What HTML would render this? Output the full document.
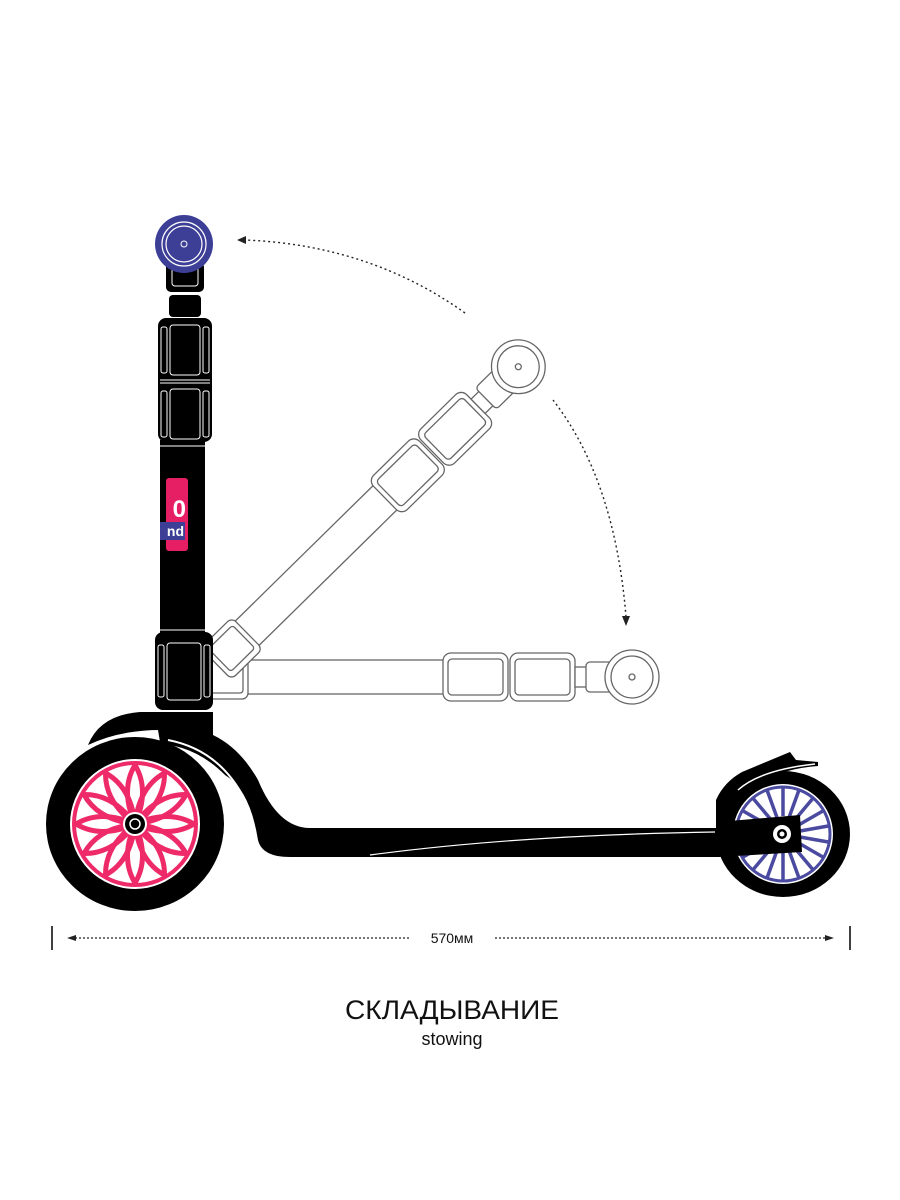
<!DOCTYPE html>
<html><head><meta charset="utf-8"><style>
html,body{margin:0;padding:0;background:#fff;width:900px;height:1200px;overflow:hidden}
svg{display:block}
</style></head><body>
<svg width="900" height="1200" viewBox="0 0 900 1200" xmlns="http://www.w3.org/2000/svg">
<defs>
<g id="gstem" fill="#fff" stroke="#666" stroke-width="1.3">
  <rect x="0" y="-17" width="230" height="34"/>
  <rect x="225" y="-24" width="65" height="48" rx="8"/>
  <rect x="230" y="-18" width="55" height="36" rx="4"/>
  <rect x="292" y="-24" width="65" height="48" rx="8"/>
  <rect x="297" y="-18" width="55" height="36" rx="4"/>
  <rect x="357" y="-10" width="15" height="20"/>
  <rect x="368" y="-15" width="28" height="30" rx="4"/>
  <circle cx="414" cy="0" r="27"/>
  <circle cx="414" cy="0" r="21"/>
  <circle cx="414" cy="0" r="3"/>
  <rect x="-14" y="-22" width="44" height="44" rx="6"/>
  <rect x="-9" y="-16" width="34" height="32" rx="3"/>
</g>
</defs>
<use href="#gstem" transform="translate(218,677)"/>
<use href="#gstem" transform="translate(226,654) rotate(-44.5) scale(0.99,1)"/>

<path d="M465 313 Q370 245 245 240" fill="none" stroke="#222" stroke-width="1.4" stroke-dasharray="2 3"/>
<polygon points="237,240 246,236 246,244" fill="#222"/>
<path d="M553 400 Q615 480 626 617" fill="none" stroke="#222" stroke-width="1.4" stroke-dasharray="2 3"/>
<polygon points="626,626 622,616 630,616" fill="#222"/>

<path d="M88 745 Q100 715 140 712 L160 712 L160 730 Q120 730 88 745Z" fill="#000"/>
<ellipse cx="135" cy="824" rx="89" ry="87" fill="#000"/>
<circle cx="135" cy="824" r="65" fill="#fff"/>
<circle cx="135" cy="824" r="61" fill="none" stroke="#ee2a68" stroke-width="4"/>
<g stroke="#ee2a68" stroke-width="5" fill="none" stroke-linecap="round">
<path d="M135 824 Q120 790 135 765 M135 824 Q150 790 135 765" transform="rotate(0 135 824)"/>
<path d="M135 824 Q120 790 135 765 M135 824 Q150 790 135 765" transform="rotate(30 135 824)"/>
<path d="M135 824 Q120 790 135 765 M135 824 Q150 790 135 765" transform="rotate(60 135 824)"/>
<path d="M135 824 Q120 790 135 765 M135 824 Q150 790 135 765" transform="rotate(90 135 824)"/>
<path d="M135 824 Q120 790 135 765 M135 824 Q150 790 135 765" transform="rotate(120 135 824)"/>
<path d="M135 824 Q120 790 135 765 M135 824 Q150 790 135 765" transform="rotate(150 135 824)"/>
<path d="M135 824 Q120 790 135 765 M135 824 Q150 790 135 765" transform="rotate(180 135 824)"/>
<path d="M135 824 Q120 790 135 765 M135 824 Q150 790 135 765" transform="rotate(210 135 824)"/>
<path d="M135 824 Q120 790 135 765 M135 824 Q150 790 135 765" transform="rotate(240 135 824)"/>
<path d="M135 824 Q120 790 135 765 M135 824 Q150 790 135 765" transform="rotate(270 135 824)"/>
<path d="M135 824 Q120 790 135 765 M135 824 Q150 790 135 765" transform="rotate(300 135 824)"/>
<path d="M135 824 Q120 790 135 765 M135 824 Q150 790 135 765" transform="rotate(330 135 824)"/>
</g>
<circle cx="135" cy="824" r="12" fill="#fff"/>
<circle cx="135" cy="824" r="10" fill="#000"/>
<circle cx="135" cy="824" r="5" fill="none" stroke="#fff" stroke-width="1.5"/>

<path d="M155 712 L213 712 L213 735 Q240 748 258 780 Q278 828 310 828 L720 828 L720 857 L290 857 Q262 857 258 840 Q250 790 225 775 Q205 755 182 748 Q160 742 160 742 Z" fill="#000"/>
<path d="M168 740 Q220 750 245 800" fill="none" stroke="#fff" stroke-width="2"/>
<path d="M370 855 Q520 835 715 832" fill="none" stroke="#fff" stroke-width="1.2"/>

<ellipse cx="783" cy="834" rx="67" ry="63" fill="#000"/>
<path d="M716 830 L716 800 Q724 782 742 772 L790 752 L796 760 L818 762 L818 766 Q765 770 740 800 Q728 815 724 830 Z" fill="#000"/>
<circle cx="783" cy="834" r="50" fill="#fff"/>
<circle cx="783" cy="834" r="47" fill="none" stroke="#4a4aa0" stroke-width="3"/>
<g stroke="#4a4aa0" stroke-width="3.5">
<line x1="783" y1="834" x2="783" y2="788"/><line x1="783" y1="834" x2="783" y2="788" transform="rotate(20 783 834)"/>
<line x1="783" y1="834" x2="783" y2="788" transform="rotate(40 783 834)"/><line x1="783" y1="834" x2="783" y2="788" transform="rotate(60 783 834)"/>
<line x1="783" y1="834" x2="783" y2="788" transform="rotate(80 783 834)"/><line x1="783" y1="834" x2="783" y2="788" transform="rotate(100 783 834)"/>
<line x1="783" y1="834" x2="783" y2="788" transform="rotate(120 783 834)"/><line x1="783" y1="834" x2="783" y2="788" transform="rotate(140 783 834)"/>
<line x1="783" y1="834" x2="783" y2="788" transform="rotate(160 783 834)"/><line x1="783" y1="834" x2="783" y2="788" transform="rotate(180 783 834)"/>
<line x1="783" y1="834" x2="783" y2="788" transform="rotate(200 783 834)"/><line x1="783" y1="834" x2="783" y2="788" transform="rotate(220 783 834)"/>
<line x1="783" y1="834" x2="783" y2="788" transform="rotate(240 783 834)"/><line x1="783" y1="834" x2="783" y2="788" transform="rotate(260 783 834)"/>
<line x1="783" y1="834" x2="783" y2="788" transform="rotate(280 783 834)"/><line x1="783" y1="834" x2="783" y2="788" transform="rotate(300 783 834)"/>
<line x1="783" y1="834" x2="783" y2="788" transform="rotate(320 783 834)"/><line x1="783" y1="834" x2="783" y2="788" transform="rotate(340 783 834)"/>
</g>
<circle cx="783" cy="834" r="18" fill="#fff"/>
<path d="M718 822 L800 815 L802 852 L718 857 Z" fill="#000"/>
<circle cx="782" cy="834" r="9" fill="#fff"/>
<circle cx="782" cy="834" r="5" fill="#000"/>
<circle cx="782" cy="834" r="2.5" fill="#fff"/>
<path d="M738 790 Q760 770 815 764" fill="none" stroke="#fff" stroke-width="1.5"/>

<rect x="160" y="440" width="45" height="200" fill="#000"/>
<rect x="155" y="632" width="58" height="78" rx="8" fill="#000"/>
<g fill="none" stroke="#fff" stroke-width="1">
<line x1="155" y1="630" x2="213" y2="630"/>
<rect x="167" y="643" width="34" height="57" rx="3"/>
<rect x="158" y="645" width="6" height="52" rx="2"/>
<rect x="204" y="645" width="6" height="52" rx="2"/>
</g>
<rect x="158" y="318" width="54" height="124" rx="8" fill="#000"/>
<g fill="none" stroke="#fff" stroke-width="1">
<line x1="160" y1="380" x2="210" y2="380"/>
<line x1="160" y1="383" x2="210" y2="383"/>
<rect x="170" y="325" width="30" height="50" rx="3"/>
<rect x="170" y="389" width="30" height="50" rx="3"/>
<rect x="161" y="327" width="6" height="46" rx="2"/>
<rect x="203" y="327" width="6" height="46" rx="2"/>
<rect x="161" y="391" width="6" height="46" rx="2"/>
<rect x="203" y="391" width="6" height="46" rx="2"/>
<line x1="160" y1="446" x2="210" y2="446"/>
</g>
<rect x="169" y="295" width="32" height="22" rx="4" fill="#000"/>
<rect x="166" y="262" width="38" height="30" rx="5" fill="#000"/>
<rect x="172" y="266" width="26" height="20" rx="3" fill="none" stroke="#fff" stroke-width="1"/>
<rect x="166" y="478" width="22" height="73" rx="3" fill="#e61e63"/>
<text x="186" y="517" font-family="Liberation Sans, sans-serif" font-weight="bold" font-size="24" fill="#fff" text-anchor="end">0</text>
<rect x="160" y="522" width="25" height="18" fill="#3d3f97"/>
<text x="184" y="536" font-family="Liberation Sans, sans-serif" font-weight="bold" font-size="14" fill="#fff" text-anchor="end">nd</text>
<circle cx="184" cy="244" r="29" fill="#3d3f97"/>
<circle cx="184" cy="244" r="22" fill="none" stroke="#fff" stroke-width="1.2"/>
<circle cx="184" cy="244" r="18" fill="none" stroke="#fff" stroke-width="1.2"/>
<circle cx="184" cy="244" r="3" fill="none" stroke="#fff" stroke-width="1"/>

<line x1="52" y1="926" x2="52" y2="950" stroke="#000" stroke-width="1.5"/>
<line x1="850" y1="926" x2="850" y2="950" stroke="#000" stroke-width="1.5"/>
<line x1="75" y1="938" x2="410" y2="938" stroke="#222" stroke-width="1.2" stroke-dasharray="2 2"/>
<line x1="495" y1="938" x2="825" y2="938" stroke="#222" stroke-width="1.2" stroke-dasharray="2 2"/>
<polygon points="67,938 76,935 76,941" fill="#222"/>
<polygon points="834,938 825,935 825,941" fill="#222"/>
<text x="452" y="943" font-family="Liberation Sans, sans-serif" font-size="14" fill="#111" text-anchor="middle">570мм</text>
<text x="452" y="1019" font-family="Liberation Sans, sans-serif" font-size="27" fill="#111" text-anchor="middle" textLength="214" lengthAdjust="spacingAndGlyphs">СКЛАДЫВАНИЕ</text>
<text x="452" y="1045" font-family="Liberation Sans, sans-serif" font-size="18" fill="#111" text-anchor="middle">stowing</text>
</svg>
</body></html>
